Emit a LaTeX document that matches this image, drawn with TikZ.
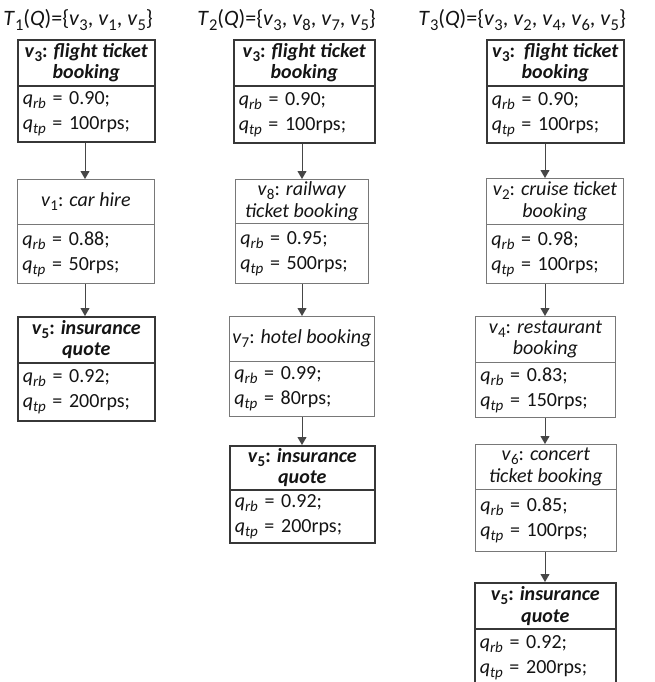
\documentclass[tikz,border=0pt]{standalone}
\usepackage{fontspec}
\setmainfont{Carlito}
\usetikzlibrary{arrows.meta}
\definecolor{ink}{RGB}{20,20,20}
\definecolor{frame}{RGB}{55,55,55}
\definecolor{thin}{RGB}{120,120,120}
\definecolor{wire}{RGB}{70,70,70}
\newcommand{\low}[1]{\raisebox{-4pt}{\fontsize{15}{15}\selectfont #1}}
\newcommand{\tlow}[1]{\raisebox{-4.5pt}{\fontsize{16.5}{16.5}\selectfont #1}}
\newcommand{\vsub}[1]{\textit{v}\low{#1}}
\newcommand{\tvsub}[1]{\textit{v}\tlow{#1}}
\newcommand{\qrb}[1]{\textit{q}\low{\textit{rb}} = #1;}
\newcommand{\qtp}[1]{\textit{q}\low{\textit{tp}} = #1rps;}
\tikzset{
  every picture/.style={color=ink, line width=0.8pt},
  cell/.style={anchor=north west, inner ysep=0pt},
  sname/.style={cell, inner xsep=2pt, align=center, font=\fontsize{20}{21.5}\selectfont},
  spar/.style={cell, inner xsep=5pt, align=left, font=\fontsize{20}{25}\selectfont},
  keybox/.style={draw=frame, line width=1.6pt},
  plainbox/.style={draw=thin, line width=0.8pt},
  keyname/.style={sname, keybox, font=\fontsize{20}{21.5}\selectfont\bfseries},
  plainname/.style={sname, plainbox},
  hop/.style={-{Triangle[length=8pt,width=9pt]}, draw=wire, line width=0.9pt},
  tset/.style={anchor=base west, inner sep=0pt, font=\fontsize{22}{26}\selectfont},
}
\begin{document}
\begin{tikzpicture}[x=1pt, y=-1pt]
  \useasboundingbox (0,0) rectangle (654,682);
  \node[tset] (t1) at (3,26) {\textit{T}\tlow{1}(\textit{Q})=\{\tvsub{3}, \tvsub{1}, \tvsub{5}\}};
  \node[tset] (t2) at (197,26) {\textit{T}\tlow{2}(\textit{Q})=\{\tvsub{3}, \tvsub{8}, \tvsub{7}, \tvsub{5}\}};
  \node[tset] (t3) at (418,26) {\textit{T}\tlow{3}(\textit{Q})=\{\tvsub{3}, \tvsub{2}, \tvsub{4}, \tvsub{6}, \tvsub{5}\}};
  % T1
  \node[keyname, minimum width=137pt, minimum height=46pt] (c1v3) at (17,39) {\vsub{3}: \textit{flight ticket}\\\textit{booking}};
  \node[spar, keybox, text width=127pt, minimum height=56pt] (c1v3p) at (17,85) {\qrb{0.90}\\\qtp{100}};
  \node[plainname, minimum width=137pt, minimum height=45pt] (c1v1) at (17,179) {\vsub{1}: \textit{car hire}};
  \node[spar, plainbox, text width=127pt, minimum height=59pt] (c1v1p) at (17,224) {\qrb{0.88}\\\qtp{50}};
  \node[keyname, minimum width=137pt, minimum height=46pt] (c1v5) at (17,316) {\vsub{5}: \textit{insurance}\\\textit{quote}};
  \node[spar, keybox, text width=127pt, minimum height=58pt] (c1v5p) at (17,362) {\qrb{0.92}\\\qtp{200}};
  % T2
  \node[keyname, minimum width=141pt, minimum height=46pt] (c2v3) at (233,39) {\vsub{3}: \textit{flight ticket}\\\textit{booking}};
  \node[spar, keybox, text width=131pt, minimum height=57pt] (c2v3p) at (233,85) {\qrb{0.90}\\\qtp{100}};
  \node[plainname, minimum width=133pt, minimum height=44pt] (c2v8) at (235,179) {\vsub{8}: \textit{railway}\\\textit{ticket booking}};
  \node[spar, plainbox, text width=123pt, minimum height=60pt] (c2v8p) at (235,223) {\qrb{0.95}\\\qtp{500}};
  \node[plainname, minimum width=145pt, minimum height=45pt] (c2v7) at (229,316) {\vsub{7}: \textit{hotel booking}};
  \node[spar, plainbox, text width=135pt, minimum height=55pt] (c2v7p) at (229,361) {\qrb{0.99}\\\qtp{80}};
  \node[keyname, minimum width=145pt, minimum height=44pt] (c2v5) at (229,445) {\vsub{5}: \textit{insurance}\\\textit{quote}};
  \node[spar, keybox, text width=135pt, minimum height=53pt] (c2v5p) at (229,489) {\qrb{0.92}\\\qtp{200}};
  % T3
  \node[keyname, minimum width=137pt, minimum height=46pt] (c3v3) at (486,39) {\vsub{3}:\ \ \textit{flight ticket}\\\textit{booking}};
  \node[spar, keybox, text width=127pt, minimum height=57pt] (c3v3p) at (486,85) {\qrb{0.90}\\\qtp{100}};
  \node[plainname, minimum width=137pt, minimum height=46pt] (c3v2) at (486,178) {\vsub{2}: \textit{cruise ticket}\\\textit{booking}};
  \node[spar, plainbox, text width=127pt, minimum height=59pt] (c3v2p) at (486,224) {\qrb{0.98}\\\qtp{100}};
  \node[plainname, minimum width=140pt, minimum height=46pt] (c3v4) at (475,316) {\vsub{4}: \textit{restaurant}\\\textit{booking}};
  \node[spar, plainbox, text width=130pt, minimum height=55pt] (c3v4p) at (475,362) {\qrb{0.83}\\\qtp{150}};
  \node[plainname, minimum width=141pt, minimum height=45pt] (c3v6) at (475,444) {\vsub{6}: \textit{concert}\\\textit{ticket booking}};
  \node[spar, plainbox, text width=131pt, minimum height=62pt] (c3v6p) at (475,489) {\qrb{0.85}\\\qtp{100}};
  \node[keyname, minimum width=141pt, minimum height=46pt] (c3v5) at (474,582) {\vsub{5}: \textit{insurance}\\\textit{quote}};
  \node[spar, keybox, text width=131pt, minimum height=58pt] (c3v5p) at (474,628) {\qrb{0.92}\\\qtp{200}};
  \coordinate (c1) at (85,0);
  \coordinate (c2) at (302,0);
  \coordinate (c3) at (545,0);
  \foreach \a/\b/\c in {c1v3p/c1v1/c1, c1v1p/c1v5/c1, c2v3p/c2v8/c2, c2v8p/c2v7/c2, c2v7p/c2v5/c2,
      c3v3p/c3v2/c3, c3v2p/c3v4/c3, c3v4p/c3v6/c3, c3v6p/c3v5/c3}
    \draw[hop] (\a.south -| \c) -- (\b.north -| \c);
\end{tikzpicture}
\end{document}
